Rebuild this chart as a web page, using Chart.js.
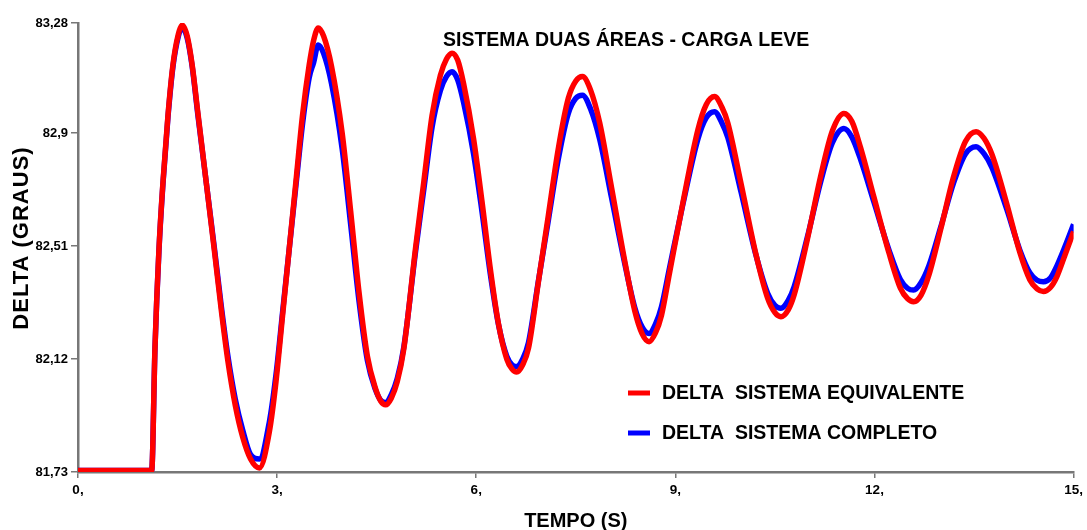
<!DOCTYPE html>
<html>
<head>
<meta charset="utf-8">
<script src="https://cdn.jsdelivr.net/npm/chart.js@4/dist/chart.umd.min.js"></script>
<style>
  body { margin: 0; background: #fff; }
  #wrap { width: 1087px; height: 530px; position: relative; }
</style>
</head>
<body>
<div id="wrap"><canvas id="grafico"></canvas></div>
<script>
// --- Dados ---
const tempo = [
    0.00, 1.11, 1.16, 1.22, 1.28, 1.355, 1.43, 1.51, 1.57,
    1.645, 1.72, 1.806, 1.932, 2.057, 2.158, 2.26, 2.37, 2.482, 2.60, 2.733,
    2.883, 2.983, 3.083, 3.183, 3.283, 3.383, 3.483, 3.55, 3.619,
    3.70, 3.82, 3.98, 4.108, 4.234, 4.36, 4.48, 4.56, 4.635,
    4.72, 4.81, 4.91, 5.085, 5.21, 5.335, 5.46, 5.55, 5.635,
    5.72, 5.81, 5.96, 6.086, 6.21, 6.336, 6.46, 6.54, 6.61,
    6.70, 6.787, 6.937, 7.087, 7.237, 7.387, 7.50, 7.60,
    7.72, 7.86, 8.04, 8.24, 8.39, 8.50, 8.604,
    8.70, 8.79, 8.914, 9.114, 9.34, 9.464, 9.59,
    9.70, 9.79, 9.99, 10.215, 10.39, 10.50, 10.59,
    10.70, 10.79, 10.99, 11.19, 11.366, 11.54,
    11.66, 11.79, 11.99, 12.22, 12.39, 12.50, 12.59,
    12.70, 12.82, 13.0, 13.19, 13.37, 13.53,
    13.65, 13.77, 13.99, 14.19, 14.34, 14.45, 14.545,
    14.65, 14.745, 14.87, 15.0
];

const deltaEquivalente = [
    81.735, 81.735, 82.16, 82.50, 82.73, 82.96, 83.135, 83.24, 83.273,
    83.235, 83.135, 82.97, 82.73, 82.49, 82.29, 82.11, 81.96, 81.85, 81.775, 81.744,
    81.869, 82.042, 82.272, 82.502, 82.732, 82.962, 83.135, 83.22, 83.263,
    83.235, 83.13, 82.90, 82.63, 82.35, 82.13, 82.02, 81.975, 81.962,
    81.985, 82.042, 82.157, 82.502, 82.732, 82.962, 83.10, 83.155, 83.176,
    83.152, 83.07, 82.88, 82.665, 82.435, 82.24, 82.12, 82.085, 82.075,
    82.10, 82.157, 82.387, 82.617, 82.847, 83.02, 83.08, 83.095,
    83.05, 82.935, 82.71, 82.455, 82.285, 82.207, 82.18,
    82.21, 82.27, 82.42, 82.66, 82.912, 82.998, 83.026,
    82.99, 82.935, 82.725, 82.48, 82.33, 82.28, 82.266,
    82.29, 82.342, 82.535, 82.752, 82.908, 82.968,
    82.94, 82.85, 82.68, 82.485, 82.365, 82.328, 82.318,
    82.34, 82.41, 82.57, 82.748, 82.871, 82.905,
    82.882, 82.826, 82.658, 82.488, 82.394, 82.362, 82.353,
    82.367, 82.403, 82.479, 82.56
];

const deltaCompleto = [
    81.735, 81.735, 82.158, 82.496, 82.725, 82.954, 83.128, 83.232, 83.265,
    83.228, 83.13, 82.963, 82.73, 82.499, 82.304, 82.128, 81.981, 81.874, 81.79, 81.775,
    81.903, 82.066, 82.283, 82.501, 82.718, 82.932, 83.091, 83.144, 83.204,
    83.175, 83.07, 82.845, 82.585, 82.32, 82.115, 82.015, 81.978, 81.97,
    81.997, 82.053, 82.163, 82.49, 82.706, 82.921, 83.047, 83.095, 83.112,
    83.084, 83.005, 82.828, 82.63, 82.417, 82.238, 82.13, 82.10, 82.094,
    82.12, 82.177, 82.39, 82.60, 82.811, 82.968, 83.02, 83.031,
    82.985, 82.878, 82.675, 82.447, 82.296, 82.23, 82.208,
    82.24, 82.30, 82.437, 82.655, 82.88, 82.953, 82.974,
    82.936, 82.885, 82.696, 82.478, 82.347, 82.305, 82.295,
    82.322, 82.37, 82.542, 82.733, 82.867, 82.916,
    82.886, 82.809, 82.663, 82.495, 82.394, 82.364, 82.358,
    82.383, 82.442, 82.577, 82.727, 82.828, 82.853,
    82.829, 82.781, 82.639, 82.496, 82.418, 82.392, 82.387,
    82.40, 82.44, 82.508, 82.585
];

const yTicks = [81.73, 82.12, 82.51, 82.9, 83.28];
const yTickLabels = ['81,73', '82,12', '82,51', '82,9', '83,28'];
const xTicks = [0, 3, 6, 9, 12, 15];
const xTickLabels = ['0,', '3,', '6,', '9,', '12,', '15,'];

const seriesNames = ['DELTA  SISTEMA EQUIVALENTE', 'DELTA  SISTEMA COMPLETO'];
const chartTitle = 'SISTEMA DUAS ÁREAS - CARGA LEVE';
const xTitle = 'TEMPO (S)';
const yTitle = 'DELTA (GRAUS)';

// --- Estilo ---
const FONT = '"Liberation Sans", Arial, sans-serif';
const AXIS_GRAY = '#777777';

const toPoints = (vals) => tempo.map((t, i) => ({ x: t, y: vals[i] }));

// textos extras: título, legenda interna e títulos dos eixos
const extraText = {
    id: 'extraText',
    afterDraw(chart) {
        const { ctx, chartArea } = chart;
        ctx.save();
        ctx.fillStyle = '#000';

        ctx.font = 'bold 19.5px ' + FONT;
        ctx.textBaseline = 'middle';
        ctx.textAlign = 'left';
        ctx.fillText(chartTitle, 443, 41);

        // legenda
        chart.data.datasets.forEach((ds, i) => {
            const y = 393 + i * 40;
            ctx.strokeStyle = ds.borderColor;
            ctx.lineWidth = 5;
            ctx.beginPath();
            ctx.moveTo(628, y);
            ctx.lineTo(650, y);
            ctx.stroke();
            ctx.fillText(ds.label, 662, y + 1);
        });

        // título eixo x
        ctx.textAlign = 'center';
        ctx.textBaseline = 'alphabetic';
        ctx.font = 'bold 20px ' + FONT;
        ctx.fillText(xTitle, (chartArea.left + chartArea.right) / 2, 527);

        // título eixo y
        ctx.translate(28, 238);
        ctx.rotate(-Math.PI / 2);
        ctx.font = 'bold 22px ' + FONT;
        ctx.letterSpacing = '1px';
        ctx.fillText(yTitle, 0, 0);
        ctx.restore();
    }
};

new Chart(document.getElementById('grafico').getContext('2d'), {
    type: 'line',
    data: {
        datasets: [
            {
                label: seriesNames[0],
                data: toPoints(deltaEquivalente),
                borderColor: '#ff0000',
                borderWidth: 5.5,
                pointRadius: 0,
                cubicInterpolationMode: 'monotone',
                fill: false
            },
            {
                label: seriesNames[1],
                data: toPoints(deltaCompleto),
                borderColor: '#0000ff',
                borderWidth: 5.5,
                pointRadius: 0,
                cubicInterpolationMode: 'monotone',
                fill: false
            }
        ]
    },
    options: {
        responsive: true,
        maintainAspectRatio: false,
        animation: false,
        layout: { padding: { top: 23, right: 10, left: 0, bottom: 0 } },
        plugins: {
            legend: { display: false },
            title: { display: false },
            tooltip: { enabled: false }
        },
        scales: {
            x: {
                type: 'linear',
                min: 0,
                max: 15,
                afterBuildTicks: (scale) => { scale.ticks = xTicks.map(v => ({ value: v })); },
                afterFit: (scale) => { scale.height = 58; },
                ticks: {
                    callback: (value, index) => xTickLabels[index],
                    color: '#000',
                    font: { family: FONT, size: 13.5, weight: 'bold' },
                    padding: 4,
                    maxRotation: 0,
                    autoSkip: false
                },
                grid: { drawOnChartArea: false, drawTicks: true, tickLength: 6, color: AXIS_GRAY, lineWidth: 1.5 },
                border: { color: AXIS_GRAY, width: 2.5 }
            },
            y: {
                type: 'linear',
                min: 81.73,
                max: 83.28,
                afterBuildTicks: (scale) => { scale.ticks = yTicks.map(v => ({ value: v })); },
                afterFit: (scale) => { scale.width = 78; },
                ticks: {
                    callback: (value, index) => yTickLabels[index],
                    color: '#000',
                    font: { family: FONT, size: 13, weight: 'bold' },
                    padding: 3,
                    autoSkip: false
                },
                grid: { drawOnChartArea: false, drawTicks: true, tickLength: 7, color: AXIS_GRAY, lineWidth: 1.5 },
                border: { color: AXIS_GRAY, width: 2.5 }
            }
        }
    },
    plugins: [extraText]
});
</script>
</body>
</html>
